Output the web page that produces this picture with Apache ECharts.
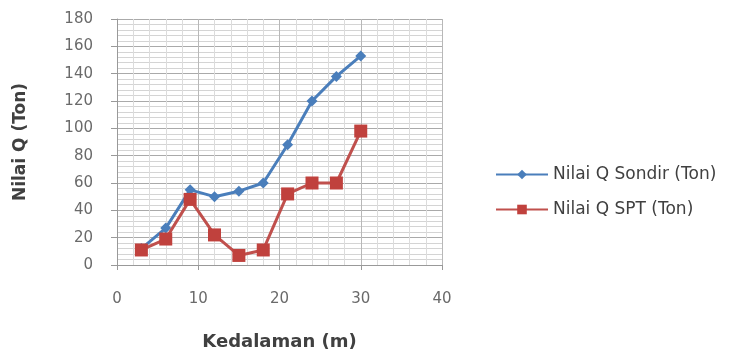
<!DOCTYPE html>
<html>
<head>
<meta charset="utf-8">
<script src="https://cdn.jsdelivr.net/npm/echarts@6/dist/echarts.min.js"></script>
<style>html,body{margin:0;padding:0;background:#fff;}#c{width:736px;height:354px;}</style>
</head>
<body>
<div id="c"></div>
<script>
const depths = [3, 6, 9, 12, 15, 18, 21, 24, 27, 30];
const sondir = [12, 27, 55, 50, 54, 60, 88, 120, 138, 153];
const spt = [11, 19, 48, 22, 7, 11, 52, 60, 60, 98];
const seriesNames = ['Nilai Q Sondir (Ton)', 'Nilai Q SPT (Ton)'];
const xTitle = 'Kedalaman (m)';
const yTitle = 'Nilai Q (Ton)';

const font = 'DejaVu Sans';
const chart = echarts.init(document.getElementById('c'));
chart.setOption({
  animation: false,
  backgroundColor: '#fff',
  grid: { left: 117, right: 294, top: 19, bottom: 89, containLabel: false, outerBoundsMode: 'none' },
  legend: {
    orient: 'vertical', left: 490, top: 161, itemGap: 18, itemWidth: 52, itemHeight: 12,
    textStyle: { fontFamily: font, fontSize: 17, color: '#404040' },
    data: seriesNames
  },
  xAxis: {
    type: 'value', min: 0, max: 40, interval: 10,
    name: xTitle, nameLocation: 'middle', nameGap: 68,
    nameTextStyle: { fontFamily: font, fontSize: 18, fontWeight: 'bold', color: '#404040' },
    axisLine: { lineStyle: { color: '#999', width: 1 } },
    axisTick: { show: true, length: 5, lineStyle: { color: '#999' } },
    axisLabel: { margin: 27, fontFamily: font, fontSize: 15, color: '#6a6a6a' },
    splitLine: { show: true, lineStyle: { color: '#b8b8b8', width: 1 } },
    minorTick: { show: false, splitNumber: 5 },
    minorSplitLine: { show: true, lineStyle: { color: '#dcdcdc', width: 1 } }
  },
  yAxis: {
    type: 'value', min: 0, max: 180, interval: 20,
    name: yTitle, nameLocation: 'middle', nameGap: 88,
    nameTextStyle: { fontFamily: font, fontSize: 17, fontWeight: 'bold', color: '#404040' },
    axisLine: { show: true, lineStyle: { color: '#999', width: 1 } },
    axisTick: { show: true, length: 6, lineStyle: { color: '#999' } },
    axisLabel: { margin: 24, fontFamily: font, fontSize: 15, color: '#6a6a6a' },
    splitLine: { show: true, lineStyle: { color: '#aaa', width: 1 } },
    minorTick: { show: false, splitNumber: 5 },
    minorSplitLine: { show: true, lineStyle: { color: '#d4d4d4', width: 1 } }
  },
  series: [
    {
      name: seriesNames[0], type: 'line',
      data: depths.map((d, i) => [d, sondir[i]]),
      symbol: 'diamond', symbolSize: 11,
      itemStyle: { color: '#4a7ebb' },
      lineStyle: { color: '#4a7ebb', width: 3 },
      z: 3
    },
    {
      name: seriesNames[1], type: 'line',
      data: depths.map((d, i) => [d, spt[i]]),
      symbol: 'rect', symbolSize: 13,
      itemStyle: { color: '#c0413d' },
      lineStyle: { color: '#c0504d', width: 3 },
      z: 4
    }
  ]
});
</script>
</body>
</html>
